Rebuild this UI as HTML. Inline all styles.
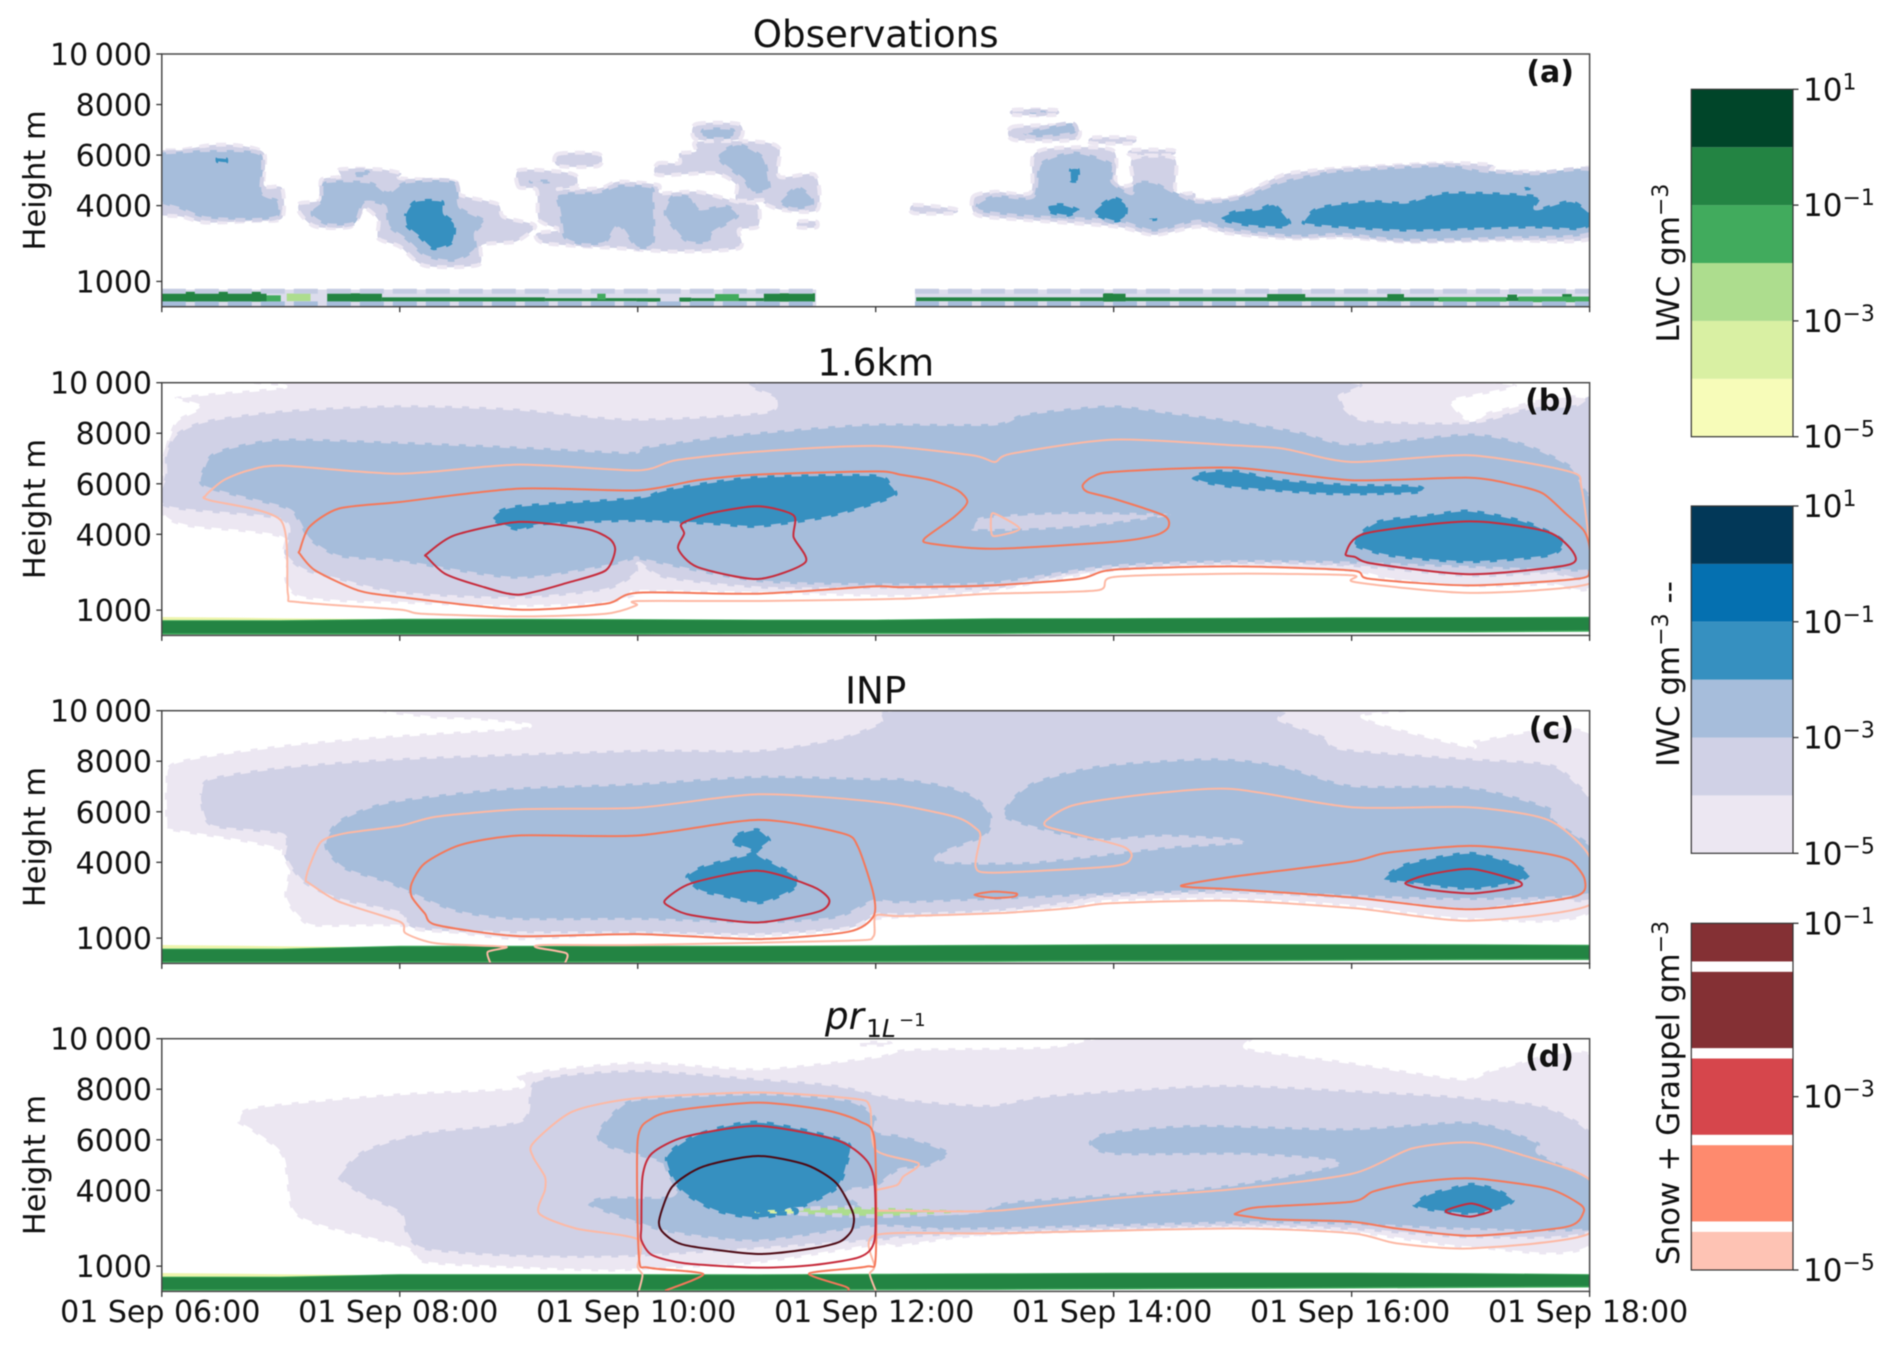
<!DOCTYPE html>
<html lang="en">
<head>
<meta charset="utf-8">
<title>Cloud water content time-height panels</title>
<style>
html,body{margin:0;padding:0;background:#fff;}
#figure{display:block;width:1892px;height:1349px;font-family:"DejaVu Sans","Liberation Sans",sans-serif;fill:#111;filter:blur(0.5px);}
</style>
</head>
<body>
<svg id="figure" xmlns="http://www.w3.org/2000/svg" width="1892" height="1349" viewBox="0 0 1892 1349"></svg>
<script>
/* ---------- axis data ---------- */
const timeTicks = [6, 8, 10, 12, 14, 16, 18];
const timeLabels = ['01 Sep 06:00', '01 Sep 08:00', '01 Sep 10:00', '01 Sep 12:00', '01 Sep 14:00', '01 Sep 16:00', '01 Sep 18:00'];
const heightTicks = [1000, 4000, 6000, 8000, 10000];
const heightLabels = ['1000', '4000', '6000', '8000', '10 000'];
const panelTitles = ['Observations', '1.6km', 'INP', ''];
const panelLetters = ['(a)', '(b)', '(c)', '(d)'];

/* ---------- colorbar data ---------- */
const lwcLevels = [-5, -4, -3, -2, -1, 0, 1];
const iwcLevels = [-5, -4, -3, -2, -1, 0, 1];
const lwcColors = ['#f7fcb9', '#d9f0a3', '#addd8e', '#41ab5d', '#238443', '#004529'];
const iwcColors = ['#ece7f2', '#d0d1e6', '#a6bddb', '#3690c0', '#0570b0', '#023858'];
const snowBandStarts = [-5, -4.44, -3.44, -2.44, -1.44];
const snowBandEnds = [-4.56, -3.56, -2.56, -1.56, -1];
const snowColors = ['#fec3b4', '#fe8a6e', '#d6464c', '#843034', '#843034'];
const lwcTicks = [1, -1, -3, -5];
const iwcTicks = [1, -1, -3, -5];
const snowTicks = [-1, -3, -5];

/* ---------- ground liquid layer (hours, metres) ---------- */
const groundHours = [6, 7, 8, 9, 10, 11, 12, 13, 14, 15, 16, 17, 18];
const groundTopB = [570, 570, 620, 620, 610, 590, 590, 640, 650, 660, 680, 690, 700];
const groundBottomB = [60, 60, 60, 60, 60, 70, 80, 80, 100, 110, 130, 140, 170];
const groundTopC = [550, 550, 660, 660, 660, 660, 680, 700, 720, 730, 730, 720, 700];
const groundBottomC = [50, 50, 50, 50, 60, 60, 70, 80, 100, 110, 130, 150, 160];
const groundTopD = [550, 550, 650, 650, 650, 640, 660, 680, 700, 710, 710, 690, 650];
const groundBottomD = [50, 50, 50, 50, 50, 60, 70, 80, 100, 120, 140, 160, 180];
const groundLipHours = [6, 6.5, 7, 8];
const groundLipTop = [730, 710, 680, 640];

/* obs low-level band: [startHour, endHour] */
const obsBandSpans = [[6, 11.5], [12.33, 18.05]];
/* obs green chunks: [startHour, endHour, top m, bottom m] */
const obsGreenDark = [[6, 6.88, 590, 200], [7.39, 7.85, 530, 200], [7.85, 9.22, 370, 210], [9.22, 9.99, 340, 220], [9.99, 10.19, 340, 200], [10.35, 10.45, 360, 200], [10.45, 11.06, 340, 220], [11.06, 11.49, 530, 200], [12.34, 18, 370, 220], [13.91, 14.1, 530, 200], [15.29, 15.61, 500, 220], [16.3, 16.44, 500, 220], [17.31, 17.39, 480, 230], [17.77, 17.85, 500, 230]];
const obsGreenMid = [[6.88, 7.0, 450, 200], [9.66, 9.73, 530, 280], [10.65, 10.85, 500, 230], [16.73, 17.3, 380, 200], [17.4, 18, 400, 180]];
const obsGreenPale = [[7.05, 7.25, 520, 220]];

/* ---------- panel (a) observations ---------- */
const obsIceLight = [
 [[5.9,6000],[6.17,6200],[6.42,6400],[6.65,6380],[6.86,6070],[6.86,4800],[7.01,4700],[7.01,3500],[6.78,3400],[6.37,3330],[6.17,3560],[5.9,3830]],
 [[7.16,4090],[7.33,4220],[7.34,5020],[7.5,5150],[7.5,5440],[7.82,5440],[8.01,5280],[8.01,5080],[8.46,4950],[8.51,4420],[8.82,4070],[8.87,3560],[9.12,3270],[9.12,3040],[8.97,2570],[8.69,2440],[8.66,1650],[8.21,1620],[8,2380],[7.82,2700],[7.82,3430],[7.7,3890],[7.59,3170],[7.29,3170],[7.16,3700]],
 [[9.33,6050],[9.67,6050],[9.67,5570],[9.33,5570]],
 [[9,4730],[9,5400],[9.33,5350],[9.48,5200],[9.48,4750],[9.33,4650],[9.68,4690],[9.84,4950],[10.17,4820],[10.19,4490],[10.5,4550],[10.83,4160],[11.01,4030],[11.01,3170],[10.85,3040],[10.85,2310],[10.32,2180],[9.84,2310],[9.22,2510],[9.15,2900],[9.35,3040],[9.17,3430],[9.15,4620]],
 [[10.49,7230],[10.85,7230],[10.85,6630],[10.49,6630]],
 [[10.17,5680],[10.35,5680],[10.35,6070],[10.49,6140],[10.5,6530],[11.01,6530],[11.19,6270],[11.19,5150],[11.49,5210],[11.51,3830],[11.21,3830],[11.06,4090],[11.06,4220],[10.83,4220],[10.83,4820],[10.65,5280],[10.17,5210]],
 [[11.35,3370],[11.5,3370],[11.5,3140],[11.35,3140]],
 [[12.32,4030],[12.66,3880],[12.66,3700],[12.32,3700]],
 [[13.16,7790],[13.51,7790],[13.51,7590],[13.16,7590]],
 [[13.16,7130],[13.67,7130],[13.67,6600],[13.16,6600]],
 [[13.82,6690],[14.16,6690],[14.16,6470],[13.82,6470]],
 [[14.15,6200],[14.49,6200],[14.49,6000],[14.15,6000]],
 [[12.82,4360],[13,4550],[13.3,4510],[13.32,5940],[13.48,6270],[13.99,6200],[14.02,4880],[14.16,4880],[14.16,5870],[14.51,5870],[14.52,4550],[14.68,4490],[14.71,4220],[15.03,4360],[15.35,5080],[15.51,5310],[15.93,5480],[16.78,5680],[17.18,5610],[17.18,5350],[17.53,5350],[17.74,5210],[18.05,5410],[18.05,2770],[17.26,2640],[16.46,2570],[15.93,2750],[15.51,2700],[14.97,2900],[14.71,3170],[14.34,2840],[14.02,3170],[13.27,3430],[12.85,3630]]
];
const obsIceMid = [
 [[5.9,5940],[6.17,6140],[6.42,6200],[6.83,6050],[6.84,4550],[6.98,4220],[6.98,3560],[6.78,3430],[6.37,3500],[6.17,3830],[5.9,4360]],
 [[7.26,3890],[7.34,4220],[7.37,4950],[7.75,4950],[7.9,4550],[8.05,4950],[8.46,4950],[8.51,3960],[8.72,3430],[8.64,2900],[8.64,2240],[8.46,1780],[8.21,1980],[8.05,2640],[7.9,3170],[7.87,3960],[7.7,4090],[7.62,3300],[7.39,3230],[7.26,3560]],
 [[7.62,5390],[7.74,5390],[7.74,5150],[7.62,5150]],
 [[9.1,5020],[9.27,5020],[9.27,4880],[9.1,4880]],
 [[9.33,4490],[9.66,4550],[9.84,4820],[10.12,4750],[10.14,4220],[10.14,2510],[9.99,2310],[9.84,3170],[9.73,2510],[9.53,2440],[9.38,2700],[9.35,3430],[9.33,3960]],
 [[10.22,3830],[10.29,4420],[10.45,4360],[10.52,3890],[10.75,4030],[10.85,3560],[10.63,2900],[10.6,2510],[10.4,2570],[10.24,3430]],
 [[10.55,7060],[10.8,7060],[10.8,6670],[10.55,6670]],
 [[10.67,6070],[10.85,6470],[11.06,5940],[11.11,5020],[11.11,4620],[10.96,4490],[10.88,5020],[10.7,5680]],
 [[11.19,4220],[11.34,4780],[11.47,4360],[11.47,3960],[11.31,3850],[11.21,4030]],
 [[12.85,4090],[13,4420],[13.32,4360],[13.38,5680],[13.67,6140],[13.99,5680],[13.99,4950],[14.15,4490],[14.18,4950],[14.34,4950],[14.51,4550],[14.71,4160],[15.03,4290],[15.4,4950],[15.72,5280],[15.93,5410],[16.78,5610],[17.1,5390],[17.53,5280],[18.05,5350],[18.05,2970],[17.26,2700],[16.46,2610],[15.93,2840],[15.51,2770],[14.97,3040],[14.71,3370],[14.34,2970],[14.02,3370],[13.27,3560],[12.88,3760]],
 [[13.24,6860],[13.38,7060],[13.65,7260],[13.67,6860],[13.35,6700]],
 [[13.3,7750],[13.42,7750],[13.42,7630],[13.3,7630]]
];
const obsIceDark = [
 [[6.46,5940],[6.55,5900],[6.55,5650],[6.46,5700]],
 [[8.04,3700],[8.13,4220],[8.36,4220],[8.38,3700],[8.47,3300],[8.45,2510],[8.28,2240],[8.15,2770],[8.05,3170]],
 [[13.63,5480],[13.71,5480],[13.71,4950],[13.63,4950]],
 [[13.44,4030],[13.57,4090],[13.72,3830],[13.62,3560],[13.46,3700]],
 [[13.83,3830],[13.99,4360],[14.11,4090],[14.11,3560],[14.02,3330],[13.86,3560]],
 [[14.29,3560],[14.36,3560],[14.36,3400],[14.29,3400]],
 [[14.89,3560],[15.03,3830],[15.21,3890],[15.35,4090],[15.49,3370],[15.43,3100],[15.13,3170],[14.92,3370]],
 [[15.59,3430],[15.72,3960],[16.14,4220],[16.46,4160],[16.81,4550],[17.55,4420],[17.55,3890],[17.85,4220],[18.05,3500],[17.93,3040],[17.53,3100],[17,3040],[16.46,2970],[15.93,3100],[15.61,3230]],
 [[17.44,4800],[17.5,4800],[17.5,4620],[17.44,4620]]
];

/* ---------- panel (b) 1.6km ---------- */
const b16IceLightest = [
 [[6,6400],[6.03,7460],[6.12,8510],[6.32,9040],[6.12,9440],[7.03,9830],[7.14,10100],[16.86,10100],[16.84,9240],[17.01,8450],[17.2,8910],[18.05,9170],[18.05,2180],[17.65,1980],[16.99,1910],[16.33,2180],[16,2510],[15,2710],[13.97,2510],[12.96,1720],[12.21,1520],[11.01,1650],[10,1720],[9.99,1580],[9.73,1250],[8.97,1120],[8,1250],[7.49,1320],[7.14,1520],[7.03,2180],[7.01,3830],[6.22,4290],[6,4820]]
];
const b16IceLight = [
 [[6.03,6400],[6.03,7190],[6.12,7990],[6.37,8510],[7.03,8910],[8,9110],[8.97,8980],[9.94,8580],[11.06,8840],[11.16,9370],[11.19,10100],[15.81,10100],[15.9,9440],[15.96,8910],[16.15,8510],[17.01,8450],[17.46,8980],[17.87,9110],[18.05,9110],[18.05,2570],[17.65,2440],[16.99,2310],[16,2710],[15.02,2900],[13.97,2710],[12.99,1850],[12.03,1850],[11.06,1850],[10.24,2240],[10.01,2840],[9.99,2440],[9.73,1780],[8.97,1450],[8,1650],[7.49,2180],[7.19,2570],[7.03,3230],[7.01,4550],[6.03,5080]]
];
const b16IceMid = [
 [[6.35,6670],[6.42,7190],[6.63,7520],[7.03,7790],[8,7660],[8.97,7480],[9.94,7260],[10.04,7460],[10.75,7920],[11.26,8140],[11.98,8380],[12.99,8380],[13.26,8780],[13.97,9110],[14.46,8840],[15.02,8510],[15.58,8050],[16,7590],[16.99,7990],[17.46,7590],[17.84,6730],[17.95,5870],[18.05,5080],[18.05,2710],[17.65,2570],[16,2840],[15.02,2900],[13.97,2710],[12.99,2050],[12.21,1980],[11.01,2110],[10.04,2970],[9.99,3040],[9.73,2710],[8.97,2240],[8,2900],[7.49,3100],[7.24,3760],[7.14,4550],[7.03,5020],[6.35,5870]]
];
const b16IceHole = [
 [[12.81,4290],[12.9,4690],[13.56,4880],[14.42,4820],[14.42,4690],[13.78,4290],[13.29,4160],[12.84,4130]]
];
const b16IceDark = [
 [[8.77,4690],[8.97,5150],[9.99,5480],[10.24,5810],[10.96,6300],[11.98,6380],[12.13,6010],[12.18,5540],[11.98,5150],[11.57,4620],[11.01,4260],[10.65,4360],[9.99,4490],[9.22,4360],[9,4130],[8.82,4420]],
 [[14.64,6270],[14.8,6530],[15.06,6530],[15.4,6200],[15.96,6010],[16.56,5940],[16.56,5610],[15.96,5540],[15.58,5610],[15.02,5810],[14.76,6010]],
 [[16.03,3890],[16.22,4550],[16.67,4820],[16.99,4980],[17.46,4550],[17.76,3890],[17.78,3500],[17.65,3100],[16.99,2860],[16.33,3100],[16.03,3500]]
];
const b16SnowPale = [
 [[7,4550],[6.4,5350],[6.37,5540],[6.52,6140],[6.73,6530],[7.01,6720],[8,6400],[9,6760],[10,6530],[10.32,6930],[10.98,7260],[12,7500],[12.81,7130],[13,6860],[13.14,7190],[14,7750],[15.02,7520],[15.43,7390],[16,6860],[16.99,7130],[17.84,6470],[17.93,5870],[18,3500],[18,2050],[16.99,1680],[16.03,2110],[16,2380],[15,2440],[14,2310],[13.86,1780],[12.96,1650],[12.21,1450],[11.01,1360],[10,1360],[9.99,1190],[9.73,860],[9,750],[8.18,860],[8,1020],[7.14,1320],[7.06,1650]],
 [[13,4820],[13.21,4220],[13,3930],[12.97,4160],[12.97,4690]]
];
const b16SnowOrange = [
 [[7.16,3370],[7.24,4290],[7.49,5020],[8,5280],[9,5810],[10,5740],[10.5,6140],[10.98,6360],[12,6490],[12.21,6360],[12.47,6140],[12.69,5740],[12.77,5280],[12.66,4690],[12.41,3830],[12.47,3630],[12.99,3430],[14,3700],[14.35,3960],[14.46,4290],[14.42,4750],[14,5410],[13.78,5680],[13.74,5940],[13.82,6270],[14,6470],[15,6640],[16,6140],[16.99,6240],[17.38,5940],[17.61,5610],[17.8,4820],[17.95,4160],[18,3500],[18,2570],[17.9,2240],[16.99,1980],[16.15,2240],[16,2570],[15,2730],[14,2600],[13.71,2240],[12.96,1980],[12.21,1910],[11.98,1940],[11.01,1650],[10,1690],[9.73,1250],[9,1020],[8,1520],[7.65,1780],[7.29,2570],[7.16,3230]]
];
const b16SnowRed = [
 [[8.23,3230],[8.46,3960],[9,4490],[9.56,4220],[9.76,3830],[9.81,3370],[9.73,2570],[9.43,2110],[9,1610],[8.66,1980],[8.38,2440],[8.23,3100]],
 [[10.37,4420],[10.6,4820],[11.01,5110],[11.31,4750],[11.31,3890],[11.41,2900],[11.01,2230],[10.5,2710],[10.34,3430],[10.39,4030]],
 [[15.95,3230],[16.11,4030],[16.99,4510],[17.65,4090],[17.87,3230],[17.8,2770],[16.99,2420],[16.18,2840],[16.03,3100]]
];

/* ---------- panel (c) INP ---------- */
const inpIceLightest = [
 [[6.03,5410],[6.03,7130],[6.12,7990],[7.03,8650],[8,9040],[8.97,9310],[9.07,9440],[8.61,9640],[8.27,9700],[8.27,10100],[16.11,10100],[16.09,9770],[16.33,9370],[17.01,8580],[17.05,8840],[18.05,8980],[18.05,2180],[16.99,1720],[16,2240],[15,2510],[13.97,2440],[13.63,2180],[12.99,1980],[12.21,1780],[12.03,1720],[11,1320],[9.99,1190],[8.97,920],[8,1450],[7.29,1450],[7.14,1850],[7.03,2640],[7.01,4420],[6.03,5280]]
];
const inpIceLight = [
 [[6.32,6730],[6.4,7330],[7.03,7790],[8,8120],[10,8450],[11.01,8450],[11.67,8910],[12.03,9500],[12.28,10100],[15.25,10100],[15.4,9640],[15.77,8980],[15.92,8510],[16.99,8120],[17.65,7920],[17.87,7260],[18.05,6070],[18.05,2640],[17.65,2510],[16.99,2110],[16,2570],[15,2840],[13.97,2710],[13.63,2380],[12.99,2050],[12.21,1910],[12,1910],[11.77,1390],[11.01,1120],[10,1190],[8.97,1190],[8.21,1320],[8.05,1580],[8,1980],[7.49,2510],[7.19,3170],[7.03,4220],[7.01,5080],[6.42,5410],[6.32,6340]]
];
const inpIceMid = [
 [[7.37,4880],[7.49,5680],[7.9,6400],[8.87,6930],[9.99,7130],[11.01,7420],[11.98,7330],[12.21,7330],[12.58,7060],[12.84,6600],[12.98,5810],[12.92,5020],[12.56,4360],[12.56,4030],[13.33,4030],[14.46,4620],[15.1,4820],[14.42,5020],[13.78,4880],[13.11,5680],[13.11,6340],[13.33,7190],[13.9,7850],[14.83,8120],[15.4,7850],[16,7060],[16.99,6990],[17.65,6200],[17.7,5680],[18.05,4490],[18.05,2770],[16.99,2510],[16,2640],[15,2840],[13.97,2710],[12.98,2510],[12.21,2380],[11.98,2440],[11.67,1780],[11.01,1580],[10,1720],[8.97,1720],[8.46,2050],[8.05,2840],[7.9,3170],[7.54,3700],[7.39,4360]]
];
const inpIceDark = [
 [[10.78,4880],[10.83,5150],[11.01,5350],[11.12,4880],[11.03,4490],[11.03,4290],[11.31,3560],[11.35,3040],[11.21,2640],[11.01,2340],[10.7,2640],[10.52,2840],[10.4,3430],[10.55,3890],[10.93,4360],[10.93,4490],[10.8,4690]],
 [[16.25,3300],[16.45,3960],[16.99,4420],[17.38,3960],[17.5,3500],[17.38,3170],[16.99,2900],[16.45,3170]]
];
const inpSnowPaleOpen = [
 [[8.76,30],[8.74,460],[8.89,660],[8.31,790],[8.05,1190],[8,1650],[7.49,2440],[7.24,3170],[7.21,3300],[7.24,3830],[7.34,4820],[7.54,5150],[8,5440],[8.31,5810],[9.02,6100],[10,6160],[11.01,6690],[12.03,6380],[12.66,5810],[12.84,5350],[12.88,5020],[12.84,3830],[12.99,3590],[14,3850],[14.15,4220],[14.08,4620],[13.71,5080],[13.44,5410],[13.44,5680],[13.67,6270],[14.31,6710],[15,6900],[16,6180],[16.99,6180],[17.65,5680],[18,4220],[18,2310],[16.99,1690],[16.03,2180],[15,2480],[13.97,2380],[13.63,2180],[12.99,1980],[12.21,1870],[12,1890],[11.98,1060],[11.77,900],[10,730],[9.22,730],[9.15,630],[9.4,400],[9.39,30]]
];
const inpSnowOrange = [
 [[8.1,3170],[8.21,3960],[8.51,4690],[9,5060],[10,5060],[11.01,5680],[11.72,5150],[11.85,4620],[11.98,2770],[11.98,1850],[11.77,1250],[11.01,960],[10,1160],[9,1080],[8.31,1520],[8.21,1980],[8.1,2640]],
 [[14.58,3100],[15,3430],[16,4030],[16.3,4380],[16.99,4650],[17.53,4420],[17.83,4090],[17.96,3300],[17.87,2640],[16.99,2140],[16,2610],[15,2930],[14.65,3010]],
 [[12.83,2710],[12.99,2840],[13.18,2770],[13.16,2640],[12.99,2590]]
];
const inpSnowRed = [
 [[10.23,2510],[10.45,3170],[11.01,3670],[11.47,3040],[11.61,2510],[11.52,2050],[11.01,1620],[10.45,1910],[10.27,2240]],
 [[16.45,3170],[16.63,3500],[17,3740],[17.38,3300],[17.43,3100],[17.35,2970],[17,2770],[16.63,2930]]
];

/* ---------- panel (d) pr 1/L ---------- */
const prIceLightest = [
 [[6.64,6780],[6.78,7310],[8,7840],[9,8080],[9.02,8630],[9.99,9090],[11.01,8830],[11.98,9290],[12.2,9560],[12.45,9620],[13.46,9690],[13.96,10100],[15.13,10100],[15.13,9620],[15.97,9090],[16.93,8430],[17.22,8830],[18.05,9230],[18.05,1970],[17.01,1700],[16,2300],[15,2490],[13.04,2230],[12.2,1770],[12,1800],[11.01,1100],[10.01,840],[9.73,780],[8.97,910],[8.21,1110],[8.05,1700],[7.34,2560],[7.09,3220],[7.01,5330],[6.78,6260],[6.64,6650]],
 [[11.87,9900],[12.12,9900],[12.12,9700],[11.87,9700]]
];
const prIceLight = [
 [[7.49,4670],[7.7,5600],[8.21,6320],[9.02,6780],[9.15,8370],[9.99,8760],[11.01,8430],[11.67,8170],[12.2,7640],[12.95,7380],[13.46,7770],[14.88,8170],[15.97,7970],[16.93,7710],[17.64,7310],[18.05,5990],[18.05,2430],[17.01,2100],[16,2430],[15,2560],[13.04,2300],[12.2,2100],[12,2000],[10,1370],[8.97,1370],[8.21,1640],[8.05,2300],[8,3090],[7.7,3750],[7.49,4410]]
];
const prIceMid = [
 [[9.58,3420],[9.73,3750],[10.29,3810],[10.27,4940],[9.73,5730],[9.66,6320],[9.84,7310],[10.04,7640],[11.01,7840],[11.77,7580],[12,6920],[12,6320],[12.2,6190],[12.45,5860],[12.62,5460],[12.45,4940],[12.2,4800],[12,4140],[11.77,4010],[11.77,3750],[12,3220],[12.62,3090],[12.89,3190],[13.12,3550],[14.04,3880],[14.96,4210],[15.9,5070],[15.13,5400],[14,5400],[13.79,5860],[13.96,6320],[14.71,6590],[15.97,6450],[17.01,6720],[17.56,5930],[17.58,5460],[18.05,4280],[18.05,2490],[17.01,2430],[16,2630],[15,2690],[13.04,2460],[12.2,2430],[12.63,2360],[12,2560],[11.01,1970],[10.29,2300],[9.99,2690]]
];
const prIceDark = [
 [[10.23,5330],[10.5,6260],[11.01,6760],[11.75,5990],[11.77,5070],[11.67,4010],[11.31,3150],[11.01,2850],[10.65,3150],[10.35,4010]],
 [[16.51,3420],[16.64,3880],[16.8,4080],[17.01,4300],[17.22,4080],[17.37,3620],[17.28,3290],[17.01,3020],[16.64,3190]]
];
const prLiquidStreak = [
 [[11.31,3250],[11.87,3330],[12.63,3220],[12.87,3190],[12.63,3100],[12,2980],[11.31,3090]]
];
const prLiquidTip = [
 [[11.01,3190],[11.31,3250],[11.31,3090],[11.01,3090]]
];
const prSnowPaleOpen = [
 [[10.01,30],[10.04,650],[10,980],[10,2060],[9.48,2490],[9.17,3090],[9.22,4010],[9.22,4540],[9.12,5330],[9.12,5860],[9.45,7110],[9.99,7640],[11.01,7870],[11.82,7620],[11.95,7310],[12,5600],[12.36,5070],[12.23,4540],[12.18,4210],[12,4010]],
 [[12,30],[11.95,690],[11.99,980],[12,2230],[13.04,2300],[15,2490],[16,2300],[16.38,1900],[17.01,1700],[18,2300],[18,4410],[17.43,5400],[17.01,5890],[16.51,5660],[16,4650],[15,4040],[14,3680],[13,3190],[12.2,3190],[12,3190]]
];
const prSnowOrangeOpen = [
 [[10.23,30],[10.55,690],[10.09,940],[10.01,1370],[10,5990],[10.12,6850],[10.35,7180],[11.01,7470],[11.57,7180],[11.87,6720],[11.99,5990],[12,1370],[11.92,980],[11.44,710],[11.75,180],[11.77,30]]
];
const prSnowOrange = [
 [[15.03,3090],[15.21,3330],[16,3550],[16.18,3950],[16.51,4300],[17.01,4470],[17.64,4080],[17.91,3480],[17.95,3150],[17.81,2560],[17.01,2200],[16.38,2490],[16,2760],[15.34,2850],[15.05,3020]]
];
const prSnowRed = [
 [[10.03,2560],[10.04,4540],[10.12,5460],[10.4,6120],[11.01,6550],[11.67,5990],[11.92,5200],[11.99,4280],[11.99,2030],[11.87,1370],[11.47,1040],[11.01,940],[10.4,1110],[10.12,1440],[10.03,2030]],
 [[16.8,3220],[17,3480],[17.16,3250],[17.16,3150],[17,2960],[16.82,3090]]
];
const prSnowDark = [
 [[10.18,2820],[10.29,4140],[10.55,4940],[11.01,5360],[11.42,5000],[11.67,4280],[11.81,3090],[11.8,2430],[11.7,1970],[11.47,1700],[11.01,1480],[10.4,1830],[10.22,2300]]
];

/* ---------- layout & axis functions ---------- */
const SVGNS = 'http://www.w3.org/2000/svg';
const fig = document.getElementById('figure');
const plotLeft = 161.8, plotRight = 1589.6, plotHeight = 252.7;
const panelTops = [54, 382.7, 710.7, 1038.7];
const panelSlugs = ['observations', 'resolution-1-6km', 'inp', 'pr-1l'];
const ICE = ['#ece7f2', '#d0d1e6', '#a6bddb', '#3690c0'];
const SNOW = ['#fdb9a5', '#f5785a', '#c72c3c', '#4d0a14'];

function xScale(h) { return plotLeft + (h - 6) / 12 * (plotRight - plotLeft); }
function yScale(panel, m) { return panelTops[panel] + plotHeight * (1 - m / 10000); }

function make(tag, parent, name, interactable) {
  const el = document.createElementNS(SVGNS, tag);
  
  
  parent.appendChild(el);
  return el;
}
function smoothPath(pts, closed) {
  const n = pts.length, k = 1 / 8;
  let d = 'M' + pts[0][0].toFixed(1) + ' ' + pts[0][1].toFixed(1);
  const last = closed ? n : n - 1;
  for (let i = 0; i < last; i++) {
    const p0 = closed ? pts[(i - 1 + n) % n] : pts[Math.max(i - 1, 0)];
    const p1 = pts[i];
    const p2 = pts[(i + 1) % n];
    const p3 = closed ? pts[(i + 2) % n] : pts[Math.min(i + 2, n - 1)];
    d += 'C' + (p1[0] + (p2[0] - p0[0]) * k).toFixed(1) + ' ' + (p1[1] + (p2[1] - p0[1]) * k).toFixed(1) + ' ' +
         (p2[0] - (p3[0] - p1[0]) * k).toFixed(1) + ' ' + (p2[1] - (p3[1] - p1[1]) * k).toFixed(1) + ' ' +
         p2[0].toFixed(1) + ' ' + p2[1].toFixed(1);
  }
  return d + (closed ? 'Z' : '');
}
function toPx(panel, poly) { return poly.map(function (p) { return [xScale(p[0]), yScale(panel, p[1])]; }); }

function drawFills(group, panel, polys, color, edge, name) {
  polys.forEach(function (poly) {
    const el = make('path', group, name, false);
    el.setAttribute('d', smoothPath(toPx(panel, poly), true));
    el.setAttribute('fill', color);
    el.setAttribute('stroke', edge);
    el.setAttribute('stroke-width', '4');
    el.setAttribute('stroke-dasharray', '10 7');
  });
}
function drawLines(group, panel, polys, color, closed, name) {
  polys.forEach(function (poly) {
    const el = make('path', group, name, false);
    el.setAttribute('d', smoothPath(toPx(panel, poly), closed));
    el.setAttribute('fill', 'none');
    el.setAttribute('stroke', color);
    el.setAttribute('stroke-width', '2');
    el.setAttribute('stroke-linejoin', 'round');
  });
}
function polyFromBand(panel, hours, top, bottom) {
  const pts = [];
  hours.forEach(function (h, i) { pts.push([xScale(h), yScale(panel, top[i])]); });
  for (let i = hours.length - 1; i >= 0; i--) { pts.push([xScale(hours[i]), yScale(panel, bottom[i])]); }
  return pts.map(function (p) { return p[0].toFixed(1) + ',' + p[1].toFixed(1); }).join(' ');
}
function drawGround(group, panel, top, bottom) {
  const lip = make('polygon', group, 'liquid-lip-low-lwc', false);
  const lipBottom = groundLipTop.map(function () { return 300; });
  lip.setAttribute('points', polyFromBand(panel, groundLipHours, groundLipTop, lipBottom));
  lip.setAttribute('fill', '#eef5ad');
  const fringe = make('polygon', group, 'liquid-layer-fringe', false);
  fringe.setAttribute('points', polyFromBand(panel, groundHours, top.map(function (v) { return v + 35; }), bottom.map(function (v) { return v - 25; })));
  fringe.setAttribute('fill', '#41ab5d');
  const core = make('polygon', group, 'liquid-layer-core', false);
  core.setAttribute('points', polyFromBand(panel, groundHours, top, bottom.map(function (v) { return v + 30; })));
  core.setAttribute('fill', '#238443');
}
function drawSpans(group, panel, spans, color, name) {
  spans.forEach(function (s) {
    const r = make('rect', group, name, false);
    r.setAttribute('x', xScale(s[0]));
    r.setAttribute('width', xScale(s[1]) - xScale(s[0]));
    r.setAttribute('y', yScale(panel, s[2]));
    r.setAttribute('height', yScale(panel, s[3]) - yScale(panel, s[2]));
    r.setAttribute('fill', color);
  });
}
function drawObsBand(group) {
  obsBandSpans.forEach(function (span) {
    const band = make('rect', group, 'obs-low-cloud-band', false);
    band.setAttribute('x', xScale(span[0]));
    band.setAttribute('width', xScale(span[1]) - xScale(span[0]));
    band.setAttribute('y', yScale(0, 680));
    band.setAttribute('height', yScale(0, 0) - yScale(0, 680));
    band.setAttribute('fill', '#dcdcec');
  });
  drawSpans(group, 0, obsGreenDark, '#238443', 'obs-liquid-dark');
  drawSpans(group, 0, obsGreenMid, '#41ab5d', 'obs-liquid-mid');
  drawSpans(group, 0, obsGreenPale, '#addd8e', 'obs-liquid-pale');
  obsBandSpans.forEach(function (span) {
    [[610, '#c4cbe2'], [110, '#a6bddb']].forEach(function (row) {
      const ln = make('line', group, 'obs-band-dashes', false);
      ln.setAttribute('x1', xScale(span[0]));
      ln.setAttribute('x2', xScale(span[1]));
      ln.setAttribute('y1', yScale(0, row[0]));
      ln.setAttribute('y2', yScale(0, row[0]));
      ln.setAttribute('stroke', row[1]);
      ln.setAttribute('stroke-width', '5');
      ln.setAttribute('stroke-dasharray', '24 9');
    });
  });
}
function addText(parent, name, str, x, y, size, anchor, weight) {
  const t = make('text', parent, name, false);
  t.setAttribute('x', x);
  t.setAttribute('y', y);
  t.setAttribute('font-size', size);
  t.setAttribute('text-anchor', anchor);
  if (weight) { t.setAttribute('font-weight', weight); }
  t.setAttribute('xml:space', 'preserve');
  t.textContent = str;
  return t;
}

/* ---------- panels ---------- */
const defs = make('defs', fig, 'clip-definitions', false);
panelTops.forEach(function (top, i) {
  const cp = document.createElementNS(SVGNS, 'clipPath');
  cp.setAttribute('id', 'clip' + i);
  const r = document.createElementNS(SVGNS, 'rect');
  r.setAttribute('x', plotLeft);
  r.setAttribute('y', top);
  r.setAttribute('width', plotRight - plotLeft);
  r.setAttribute('height', plotHeight);
  cp.appendChild(r);
  defs.appendChild(cp);
});

const panelGroups = panelTops.map(function (top, i) {
  const g = make('g', fig, 'panel-' + panelSlugs[i], false);
  const plot = make('g', g, 'plot-area-' + panelSlugs[i], false);
  plot.setAttribute('clip-path', 'url(#clip' + i + ')');
  return { g: g, plot: plot };
});

/* panel a */
(function () {
  const p = panelGroups[0].plot;
  drawFills(p, 0, obsIceLight, ICE[1], ICE[0], 'ice-contour-light');
  drawFills(p, 0, obsIceMid, ICE[2], ICE[1], 'ice-contour-mid');
  drawFills(p, 0, obsIceDark, ICE[3], ICE[2], 'ice-contour-dark');
  drawObsBand(p);
})();
/* panel b */
(function () {
  const p = panelGroups[1].plot;
  drawFills(p, 1, b16IceLightest, ICE[0], '#ffffff', 'ice-contour-lightest');
  drawFills(p, 1, b16IceLight, ICE[1], ICE[0], 'ice-contour-light');
  drawFills(p, 1, b16IceMid, ICE[2], ICE[1], 'ice-contour-mid');
  drawFills(p, 1, b16IceHole, ICE[1], ICE[2], 'ice-gap-light');
  drawFills(p, 1, b16IceDark, ICE[3], ICE[2], 'ice-contour-dark');
  drawGround(p, 1, groundTopB, groundBottomB);
  drawLines(p, 1, b16SnowPale, SNOW[0], true, 'snow-contour-pale');
  drawLines(p, 1, b16SnowOrange, SNOW[1], true, 'snow-contour-orange');
  drawLines(p, 1, b16SnowRed, SNOW[2], true, 'snow-contour-red');
})();
/* panel c */
(function () {
  const p = panelGroups[2].plot;
  drawFills(p, 2, inpIceLightest, ICE[0], '#ffffff', 'ice-contour-lightest');
  drawFills(p, 2, inpIceLight, ICE[1], ICE[0], 'ice-contour-light');
  drawFills(p, 2, inpIceMid, ICE[2], ICE[1], 'ice-contour-mid');
  drawFills(p, 2, inpIceDark, ICE[3], ICE[2], 'ice-contour-dark');
  drawGround(p, 2, groundTopC, groundBottomC);
  drawLines(p, 2, inpSnowPaleOpen, SNOW[0], false, 'snow-contour-pale');
  drawLines(p, 2, inpSnowOrange, SNOW[1], true, 'snow-contour-orange');
  drawLines(p, 2, inpSnowRed, SNOW[2], true, 'snow-contour-red');
})();
/* panel d */
(function () {
  const p = panelGroups[3].plot;
  drawFills(p, 3, prIceLightest, ICE[0], '#ffffff', 'ice-contour-lightest');
  drawFills(p, 3, prIceLight, ICE[1], ICE[0], 'ice-contour-light');
  drawFills(p, 3, prIceMid, ICE[2], ICE[1], 'ice-contour-mid');
  drawFills(p, 3, prIceDark, ICE[3], ICE[2], 'ice-contour-dark');
  drawFills(p, 3, prLiquidStreak, '#addd8e', '#d0d1e6', 'liquid-streak');
  drawFills(p, 3, prLiquidTip, '#d9f0a3', '#3690c0', 'liquid-streak-tip');
  drawGround(p, 3, groundTopD, groundBottomD);
  drawLines(p, 3, prSnowPaleOpen, SNOW[0], false, 'snow-contour-pale');
  drawLines(p, 3, prSnowOrangeOpen, SNOW[1], false, 'snow-contour-orange');
  drawLines(p, 3, prSnowOrange, SNOW[1], true, 'snow-contour-orange');
  drawLines(p, 3, prSnowRed, SNOW[2], true, 'snow-contour-red');
  drawLines(p, 3, prSnowDark, SNOW[3], true, 'snow-contour-dark');
})();

/* frames, ticks, labels */
panelTops.forEach(function (top, i) {
  const g = panelGroups[i].g;
  const frame = make('rect', g, 'axes-frame', false);
  frame.setAttribute('x', plotLeft);
  frame.setAttribute('y', top);
  frame.setAttribute('width', plotRight - plotLeft);
  frame.setAttribute('height', plotHeight);
  frame.setAttribute('fill', 'none');
  frame.setAttribute('stroke', '#4a4a4a');
  frame.setAttribute('stroke-width', '1.5');

  heightTicks.forEach(function (m, k) {
    const y = yScale(i, m);
    const tick = make('line', g, 'y-tick', false);
    tick.setAttribute('x1', plotLeft - 5.5);
    tick.setAttribute('x2', plotLeft);
    tick.setAttribute('y1', y);
    tick.setAttribute('y2', y);
    tick.setAttribute('stroke', '#333');
    tick.setAttribute('stroke-width', '1.3');
    const label = addText(g, 'y-tick-label', heightLabels[k], 152, y + 11, 30, 'end');
    label.setAttribute('word-spacing', '-3');
  });
  timeTicks.forEach(function (h, k) {
    const x = xScale(h);
    const tick = make('line', g, 'x-tick', false);
    tick.setAttribute('x1', x);
    tick.setAttribute('x2', x);
    tick.setAttribute('y1', top + plotHeight);
    tick.setAttribute('y2', top + plotHeight + 5.5);
    tick.setAttribute('stroke', '#333');
    tick.setAttribute('stroke-width', '1.3');
    if (i === 3) { addText(g, 'x-tick-label', timeLabels[k], x - 1.5, 1322, 30, 'middle'); }
  });

  const yl = addText(g, 'y-axis-title', 'Height m', 0, 0, 30.5, 'middle');
  yl.setAttribute('transform', 'translate(45,' + (top + plotHeight / 2) + ') rotate(-90)');
  if (panelTitles[i]) { addText(g, 'panel-title', panelTitles[i], 875.7, top - 7, 37.2, 'middle'); }
  addText(g, 'panel-letter', panelLetters[i], 1574, top + 28, 30, 'end', 'bold');
});

/* panel d math title */
(function () {
  const g = panelGroups[3].g;
  const pr = addText(g, 'panel-title', 'pr', 825, 1029, 37.2, 'start');
  pr.setAttribute('font-style', 'italic');
  const sub = addText(g, 'panel-title-subscript', '1', 866, 1037, 25, 'start');
  const ital = document.createElementNS(SVGNS, 'tspan');
  ital.setAttribute('font-style', 'italic');
  ital.textContent = 'L';
  sub.appendChild(ital);
  addText(g, 'panel-title-exponent', '\u22121', 899, 1026, 18, 'start');
})();

/* ---------- colorbars ---------- */
const cbLeft = 1691.3, cbRight = 1793;
function cbScale(v, min, max, top, bottom) { return bottom - (v - min) / (max - min) * (bottom - top); }
function drawColorbar(slug, starts, ends, colors, ticks, min, max, top, bottom, labelParts, labelY) {
  const g = make('g', fig, 'colorbar-' + slug, false);
  starts.forEach(function (s, i) {
    const r = make('rect', g, 'colorbar-band', false);
    const y1 = cbScale(ends[i], min, max, top, bottom);
    const y0 = cbScale(s, min, max, top, bottom);
    r.setAttribute('x', cbLeft);
    r.setAttribute('y', y1);
    r.setAttribute('width', cbRight - cbLeft);
    r.setAttribute('height', y0 - y1);
    r.setAttribute('fill', colors[i]);
  });
  const frame = make('rect', g, 'colorbar-frame', false);
  frame.setAttribute('x', cbLeft);
  frame.setAttribute('y', top);
  frame.setAttribute('width', cbRight - cbLeft);
  frame.setAttribute('height', bottom - top);
  frame.setAttribute('fill', 'none');
  frame.setAttribute('stroke', '#333');
  frame.setAttribute('stroke-width', '1.2');
  ticks.forEach(function (v) {
    const y = cbScale(v, min, max, top, bottom);
    const tick = make('line', g, 'colorbar-tick', false);
    tick.setAttribute('x1', cbRight);
    tick.setAttribute('x2', cbRight + 5.5);
    tick.setAttribute('y1', y);
    tick.setAttribute('y2', y);
    tick.setAttribute('stroke', '#333');
    tick.setAttribute('stroke-width', '1.3');
    const t = addText(g, 'colorbar-tick-label', '10', 1803, y + 11, 31, 'start');
    const sup = document.createElementNS(SVGNS, 'tspan');
    sup.setAttribute('font-size', '22');
    sup.setAttribute('dy', '-11');
    sup.textContent = (v < 0 ? '\u2212' : '') + Math.abs(v);
    t.appendChild(sup);
  });
  const label = make('text', g, 'colorbar-title', false);
  label.setAttribute('font-size', '31');
  label.setAttribute('text-anchor', 'middle');
  label.setAttribute('transform', 'translate(1679,' + labelY + ') rotate(-90)');
  label.appendChild(document.createTextNode(labelParts[0]));
  const sup2 = document.createElementNS(SVGNS, 'tspan');
  sup2.setAttribute('font-size', '22');
  sup2.setAttribute('dy', '-11');
  sup2.textContent = '\u22123';
  label.appendChild(sup2);
  if (labelParts[1]) {
    const tail = document.createElementNS(SVGNS, 'tspan');
    tail.setAttribute('dy', '11');
    tail.textContent = labelParts[1];
    label.appendChild(tail);
  }
}
drawColorbar('lwc', lwcLevels.slice(0, -1), lwcLevels.slice(1), lwcColors, lwcTicks, -5, 1, 89.3, 436.7, ['LWC gm', ''], 263);
drawColorbar('iwc', iwcLevels.slice(0, -1), iwcLevels.slice(1), iwcColors, iwcTicks, -5, 1, 506, 853.3, ['IWC gm', ' --'], 674);
drawColorbar('snow-graupel', snowBandStarts, snowBandEnds, snowColors, snowTicks, -5, -1, 923.3, 1270, ['Snow + Graupel gm', ''], 1093);
</script>
</body>
</html>
